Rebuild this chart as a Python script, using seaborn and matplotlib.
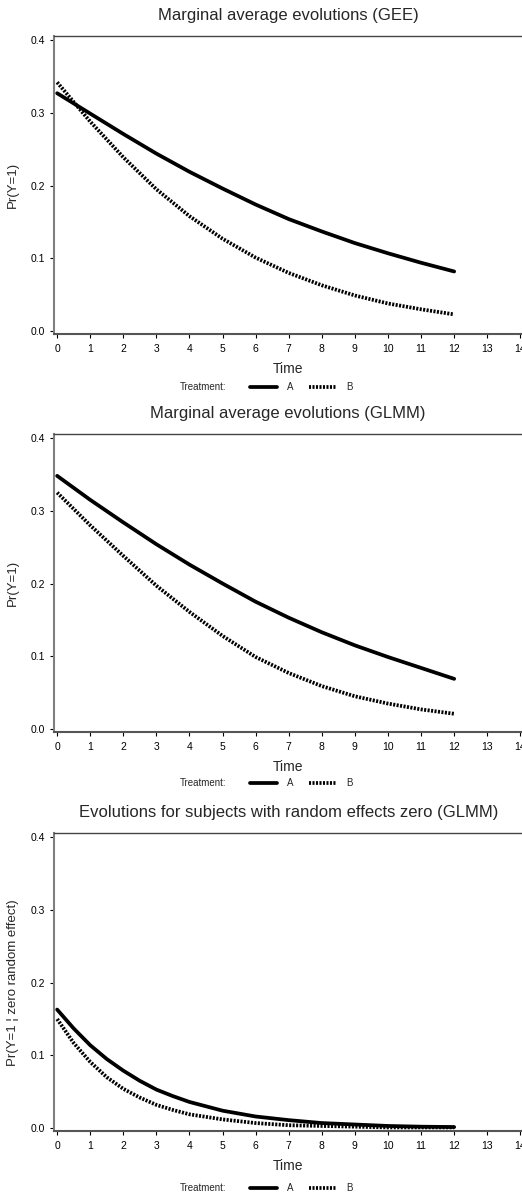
import matplotlib
matplotlib.use('Agg')
import matplotlib.pyplot as plt
import seaborn as sns
import pandas as pd
from matplotlib.lines import Line2D

# values
time = [0, 1, 2, 3, 4, 5, 6, 7, 8, 9, 10, 11, 12]

gee_a = [0.327, 0.299, 0.271, 0.244, 0.219, 0.196, 0.174, 0.154, 0.137, 0.121, 0.107, 0.094, 0.082]
gee_b = [0.342, 0.288, 0.239, 0.195, 0.158, 0.127, 0.101, 0.080, 0.063, 0.049, 0.038, 0.030, 0.023]

glmm_a = [0.348, 0.315, 0.284, 0.254, 0.226, 0.200, 0.175, 0.153, 0.133, 0.115, 0.099, 0.084, 0.069]
glmm_b = [0.325, 0.280, 0.238, 0.197, 0.161, 0.128, 0.099, 0.077, 0.059, 0.045, 0.035, 0.027, 0.021]

# bottom panel drops fast at the start, so it was read at half steps there
time_zero = [0, 0.5, 1, 1.5, 2, 2.5, 3, 3.5, 4, 5, 6, 7, 8, 9, 10, 11, 12]
zero_a = [0.163, 0.137, 0.114, 0.095, 0.079, 0.065, 0.053, 0.044, 0.036,
          0.024, 0.016, 0.011, 0.007, 0.005, 0.003, 0.002, 0.0015]
zero_b = [0.150, 0.117, 0.091, 0.070, 0.054, 0.042, 0.032, 0.025, 0.019,
          0.012, 0.007, 0.004, 0.003, 0.002, 0.001, 0.001, 0.001]

titles = ['Marginal average evolutions (GEE)',
          'Marginal average evolutions (GLMM)',
          'Evolutions for subjects with random effects zero (GLMM)']
ylabels = ['Pr(Y=1)', 'Pr(Y=1)', 'Pr(Y=1 ¦ zero random effect)']
series = [(time, gee_a, gee_b), (time, glmm_a, glmm_b), (time_zero, zero_a, zero_b)]
treatments = ['A', 'B']

sns.set_style('ticks')
plt.rcParams['font.family'] = ['Liberation Sans', 'DejaVu Sans']

fig = plt.figure(figsize=(5.22, 11.96), dpi=100)

# axes bottoms in figure fraction (top, middle, bottom panel)
bottoms = [0.7207, 0.388, 0.0543]
legend_y = [1 - 387 / 1196, 1 - 783 / 1196, 1 - 1188 / 1196]
dot_pattern = (0.55, 0.38)
line_styles = {'A': '', 'B': dot_pattern}

for i in range(3):
    ax = fig.add_axes([0.1044, bottoms[i], 0.8956, 0.2488])
    t_vals, a_vals, b_vals = series[i]
    df = pd.DataFrame({
        'Time': t_vals + t_vals,
        'prob': a_vals + b_vals,
        'Treatment': ['A'] * len(t_vals) + ['B'] * len(t_vals),
    })
    sns.lineplot(data=df, x='Time', y='prob', style='Treatment', dashes=line_styles,
                 color='black', linewidth=2.7, ax=ax, legend=False)

    ax.set_xlim(-0.08, 14.05)
    ax.set_ylim(-0.004, 0.405)
    ax.set_xticks(range(0, 15))
    ax.set_yticks([0.0, 0.1, 0.2, 0.3, 0.4])
    ax.set_yticklabels(['0.0', '0.1', '0.2', '0.3', '0.4'])
    ax.tick_params(axis='both', labelsize=7.5, length=3, width=0.8, pad=4, colors='black')

    ax.spines['right'].set_visible(False)
    ax.spines['left'].set_color('#7f7f7f')
    ax.spines['left'].set_linewidth(1.5)
    ax.spines['bottom'].set_color('#555555')
    ax.spines['bottom'].set_linewidth(1.5)
    ax.spines['top'].set_color('#444444')
    ax.spines['top'].set_linewidth(1.0)

    ax.set_title(titles[i], fontsize=12, pad=12)
    ax.set_xlabel('Time', fontsize=10, labelpad=6)
    ax.set_ylabel(ylabels[i], fontsize=9.5, labelpad=8)

    handles = [Line2D([], [], color='black', lw=2.7),
               Line2D([], [], color='black', lw=2.7, linestyle=(0, dot_pattern))]
    fig.legend(handles, treatments, ncol=2, frameon=False, fontsize=7,
               loc='center left', bbox_to_anchor=(250 / 522, legend_y[i]),
               borderpad=0, borderaxespad=0,
               handlelength=2.8, handletextpad=1.0, columnspacing=1.6)
    fig.text(180 / 522, legend_y[i], 'Treatment:', fontsize=7, ha='left', va='center')

fig.savefig('out.png', dpi=100)
